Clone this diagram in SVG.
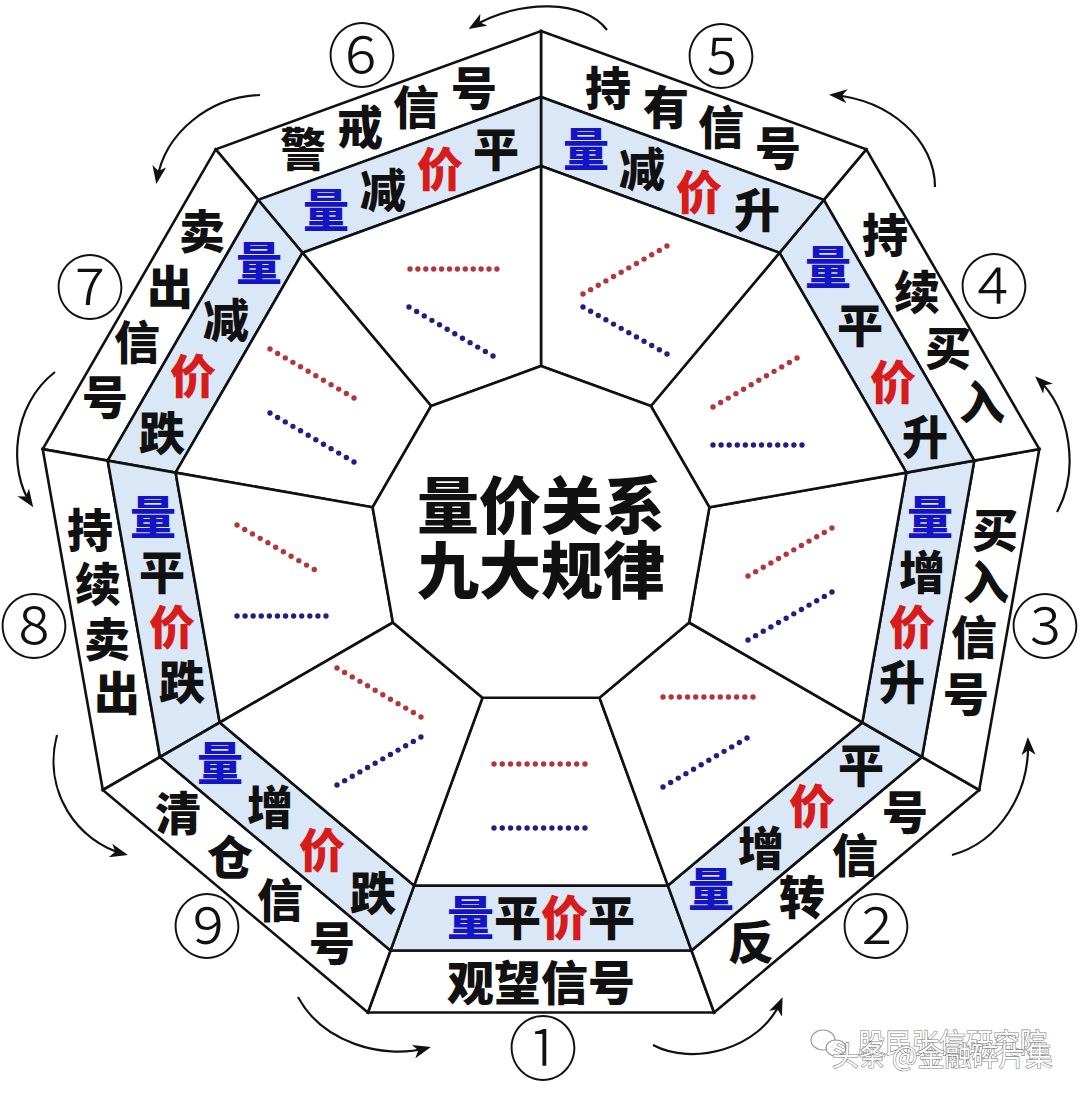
<svg xmlns="http://www.w3.org/2000/svg" width="1080" height="1094" viewBox="0 0 1080 1094">
<defs>
<style>
.o{fill:#ffffff;stroke:#111;stroke-width:2.6;stroke-linejoin:miter}
.bd{fill:#dae7f6;stroke:#111;stroke-width:2.6;stroke-linejoin:miter}
.in{fill:#ffffff;stroke:#111;stroke-width:2.6;stroke-linejoin:miter}
.t{font-family:"Noto Sans CJK SC","Noto Sans CJK TC",sans-serif;font-weight:900;font-size:46px;text-anchor:middle;fill:#111}
.h{font-size:47px}
.ttl{font-family:"Noto Sans CJK SC","Noto Sans CJK TC",sans-serif;font-weight:900;font-size:62px;text-anchor:middle;fill:#111}
.bl{fill:#1414c4}
.rd{fill:#d81c1c}
.n{font-family:"Noto Sans CJK SC","Noto Sans CJK TC",sans-serif;font-weight:300;font-size:70px;text-anchor:middle;fill:#111}
.dr{stroke:#b5363a;stroke-width:5.4;stroke-linecap:round;fill:none}
.db{stroke:#1f2080;stroke-width:5.4;stroke-linecap:round;fill:none}
.arr{fill:none;stroke:#111;stroke-width:2.2}
.wm{font-family:"Noto Sans CJK SC","Noto Sans CJK TC",sans-serif;font-weight:400;font-size:27px;fill:#ffffff;stroke:#6a6a6a;stroke-width:1.2;paint-order:stroke;opacity:0.85}
</style>
<marker id="ah" viewBox="0 0 18 14" refX="14" refY="7" markerWidth="18" markerHeight="14" markerUnits="userSpaceOnUse" orient="auto">
<path d="M0,0 L18,7 L0,14 L5,7 z" fill="#111"/>
</marker>
</defs>
<rect x="0" y="0" width="1080" height="1094" fill="#ffffff"/>

<g id="sector-1">
<polygon class="o" points="714.1,1012.5 367.9,1012.5 390.5,950.5 691.5,950.5"/>
<polygon class="bd" points="691.5,950.5 390.5,950.5 414.1,885.6 667.9,885.6"/>
<polygon class="in" points="667.9,885.6 414.1,885.6 482.5,697.7 599.5,697.7"/>
<line class="dr" x1="494" y1="764" x2="585" y2="764" stroke-dasharray="0 8.27"/>
<line class="db" x1="494" y1="828" x2="585" y2="828" stroke-dasharray="0 8.27"/>
<text class="t h" x="541" y="935"><tspan class="bl">量</tspan>平<tspan class="rd">价</tspan>平</text>
<text class="t h" x="541" y="1000">观望信号</text>
<text class="n" x="543" y="1075">①</text>
</g>

<g id="sector-2">
<polygon class="o" points="979.2,790 714.1,1012.5 691.5,950.5 922,757"/>
<polygon class="bd" points="922,757 691.5,950.5 667.9,885.6 862.3,722.5"/>
<polygon class="in" points="862.3,722.5 667.9,885.6 599.5,697.7 689.1,622.5"/>
<line class="dr" x1="663" y1="697" x2="753" y2="697" stroke-dasharray="0 8.18"/>
<line class="db" x1="663" y1="787" x2="747" y2="738" stroke-dasharray="0 8.84"/>
<text class="t"><tspan class="bl" x="711" y="906">量</tspan><tspan x="761" y="865">增</tspan><tspan class="rd" x="812" y="823">价</tspan><tspan x="861" y="782">平</tspan></text>
<text class="t"><tspan x="751" y="959">反</tspan><tspan x="802" y="914">转</tspan><tspan x="855" y="872">信</tspan><tspan x="905" y="829">号</tspan></text>
<text class="n" x="876" y="953">②</text>
</g>

<g id="sector-3">
<polygon class="o" points="1039.3,449.1 979.2,790 922,757 974.3,460.6"/>
<polygon class="bd" points="974.3,460.6 922,757 862.3,722.5 906.4,472.6"/>
<polygon class="in" points="906.4,472.6 862.3,722.5 689.1,622.5 709.4,507.3"/>
<line class="dr" x1="748" y1="576" x2="832" y2="528" stroke-dasharray="0 8.79"/>
<line class="db" x1="748" y1="640" x2="832" y2="592" stroke-dasharray="0 8.79"/>
<text class="t"><tspan class="bl" x="930" y="534">量</tspan><tspan x="922" y="589">增</tspan><tspan class="rd" x="912" y="644">价</tspan><tspan x="902" y="699">升</tspan></text>
<text class="t"><tspan x="995" y="547">买</tspan><tspan x="986" y="599">入</tspan><tspan x="974" y="654">信</tspan><tspan x="966" y="711">号</tspan></text>
<text class="n" x="1045" y="653">③</text>
</g>

<g id="sector-4">
<polygon class="o" points="866.3,149.4 1039.3,449.1 974.3,460.6 823.8,199.9"/>
<polygon class="bd" points="823.8,199.9 974.3,460.6 906.4,472.6 779.5,252.8"/>
<polygon class="in" points="779.5,252.8 906.4,472.6 709.4,507.3 650.9,406"/>
<line class="dr" x1="713" y1="407" x2="797" y2="358" stroke-dasharray="0 8.84"/>
<line class="db" x1="713" y1="445" x2="802" y2="445" stroke-dasharray="0 8.09"/>
<text class="t"><tspan class="bl" x="828" y="284">量</tspan><tspan x="860" y="342">平</tspan><tspan class="rd" x="893" y="399">价</tspan><tspan x="925" y="454">升</tspan></text>
<text class="t"><tspan x="885" y="252">持</tspan><tspan x="917" y="309">续</tspan><tspan x="948" y="365">买</tspan><tspan x="982" y="419">入</tspan></text>
<text class="n" x="994" y="313">④</text>
</g>

<g id="sector-5">
<polygon class="o" points="541,31 866.3,149.4 823.8,199.9 541,97"/>
<polygon class="bd" points="541,97 823.8,199.9 779.5,252.8 541,166"/>
<polygon class="in" points="541,166 779.5,252.8 650.9,406 541,366"/>
<line class="dr" x1="583" y1="294" x2="667" y2="246" stroke-dasharray="0 8.79"/>
<line class="db" x1="583" y1="307" x2="667" y2="354" stroke-dasharray="0 8.75"/>
<text class="t"><tspan class="bl" x="586" y="166">量</tspan><tspan x="642" y="186">减</tspan><tspan class="rd" x="699" y="209">价</tspan><tspan x="757" y="227">升</tspan></text>
<text class="t"><tspan x="608" y="105">持</tspan><tspan x="666" y="124">有</tspan><tspan x="721" y="144">信</tspan><tspan x="778" y="165">号</tspan></text>
<text class="n" x="721" y="83">⑤</text>
</g>

<g id="sector-6">
<polygon class="o" points="215.7,149.4 541,31 541,97 258.2,199.9"/>
<polygon class="bd" points="258.2,199.9 541,97 541,166 302.5,252.8"/>
<polygon class="in" points="302.5,252.8 541,166 541,366 431.1,406"/>
<line class="dr" x1="410" y1="269" x2="497" y2="269" stroke-dasharray="0 7.9"/>
<line class="db" x1="409" y1="307" x2="493" y2="356" stroke-dasharray="0 8.84"/>
<text class="t"><tspan class="bl" x="326" y="227">量</tspan><tspan x="383" y="207">减</tspan><tspan class="rd" x="440" y="186">价</tspan><tspan x="496" y="166">平</tspan></text>
<text class="t"><tspan x="303" y="166">警</tspan><tspan x="360" y="144">戒</tspan><tspan x="416" y="124">信</tspan><tspan x="474" y="105">号</tspan></text>
<text class="n" x="362" y="82">⑥</text>
</g>

<g id="sector-7">
<polygon class="o" points="42.7,449.1 215.7,149.4 258.2,199.9 107.7,460.6"/>
<polygon class="bd" points="107.7,460.6 258.2,199.9 302.5,252.8 175.6,472.6"/>
<polygon class="in" points="175.6,472.6 302.5,252.8 431.1,406 372.6,507.3"/>
<line class="dr" x1="270" y1="349" x2="354" y2="398" stroke-dasharray="0 8.84"/>
<line class="db" x1="270" y1="413" x2="354" y2="462" stroke-dasharray="0 8.84"/>
<text class="t"><tspan class="bl" x="259" y="280">量</tspan><tspan x="226" y="337">减</tspan><tspan class="rd" x="193" y="393">价</tspan><tspan x="162" y="450">跌</tspan></text>
<text class="t"><tspan x="202" y="248">卖</tspan><tspan x="170" y="304">出</tspan><tspan x="137" y="359">信</tspan><tspan x="105" y="414">号</tspan></text>
<text class="n" x="90" y="314">⑦</text>
</g>

<g id="sector-8">
<polygon class="o" points="102.8,790 42.7,449.1 107.7,460.6 160,757"/>
<polygon class="bd" points="160,757 107.7,460.6 175.6,472.6 219.7,722.5"/>
<polygon class="in" points="219.7,722.5 175.6,472.6 372.6,507.3 392.9,622.5"/>
<line class="dr" x1="237" y1="525" x2="322" y2="574" stroke-dasharray="0 8.92"/>
<line class="db" x1="237" y1="616" x2="326" y2="616" stroke-dasharray="0 8.09"/>
<text class="t"><tspan class="bl" x="153" y="534">量</tspan><tspan x="162" y="589">平</tspan><tspan class="rd" x="172" y="644">价</tspan><tspan x="182" y="699">跌</tspan></text>
<text class="t"><tspan x="90" y="547">持</tspan><tspan x="98" y="601">续</tspan><tspan x="107" y="656">卖</tspan><tspan x="117" y="710">出</tspan></text>
<text class="n" x="34" y="653">⑧</text>
</g>

<g id="sector-9">
<polygon class="o" points="367.9,1012.5 102.8,790 160,757 390.5,950.5"/>
<polygon class="bd" points="390.5,950.5 160,757 219.7,722.5 414.1,885.6"/>
<polygon class="in" points="414.1,885.6 219.7,722.5 392.9,622.5 482.5,697.7"/>
<line class="dr" x1="337" y1="668" x2="421" y2="717" stroke-dasharray="0 8.84"/>
<line class="db" x1="337" y1="785" x2="421" y2="737" stroke-dasharray="0 8.79"/>
<text class="t"><tspan class="bl" x="220" y="780">量</tspan><tspan x="270" y="824">增</tspan><tspan class="rd" x="322" y="867">价</tspan><tspan x="373" y="910">跌</tspan></text>
<text class="t"><tspan x="178" y="830">清</tspan><tspan x="230" y="874">仓</tspan><tspan x="280" y="917">信</tspan><tspan x="332" y="960">号</tspan></text>
<text class="n" x="207" y="953">⑨</text>
</g>

<g id="center">
<polygon class="in" points="541,366 650.9,406 709.4,507.3 689.1,622.5 599.5,697.7 482.5,697.7 392.9,622.5 372.6,507.3 431.1,406"/>
<text class="ttl" x="541" y="529">量价关系</text>
<text class="ttl" x="541" y="594">九大规律</text>
</g>

<g id="connectors">
<path class="arr" d="M607,30 C585,0 520,-2 472,27" marker-end="url(#ah)"/>
<path class="arr" d="M260,95 C210,97 165,132 157,180" marker-end="url(#ah)"/>
<path class="arr" d="M55,372 C12,405 8,470 31,504" marker-end="url(#ah)"/>
<path class="arr" d="M57,735 C42,792 78,842 124,854" marker-end="url(#ah)"/>
<path class="arr" d="M298,997 C322,1042 382,1060 427,1048" marker-end="url(#ah)"/>
<path class="arr" d="M653,1045 C692,1066 760,1050 781,1001" marker-end="url(#ah)"/>
<path class="arr" d="M952,855 C1000,842 1030,792 1028,741" marker-end="url(#ah)"/>
<path class="arr" d="M1057,512 C1080,470 1070,410 1038,379" marker-end="url(#ah)"/>
<path class="arr" d="M935,187 C935,140 890,100 833,95" marker-end="url(#ah)"/>
</g>

<g id="watermark">
<ellipse cx="823" cy="1040" rx="12" ry="10" fill="#ffffff" stroke="#8a8a8a" stroke-width="1.2" opacity="0.85"/>
<ellipse cx="836" cy="1048" rx="10" ry="8" fill="#ffffff" stroke="#8a8a8a" stroke-width="1.2" opacity="0.85"/>
<text class="wm" x="858" y="1053">股民张信研究院</text>
<text class="wm" x="832" y="1066">头条 @金融碎片集</text>
</g>
</svg>
